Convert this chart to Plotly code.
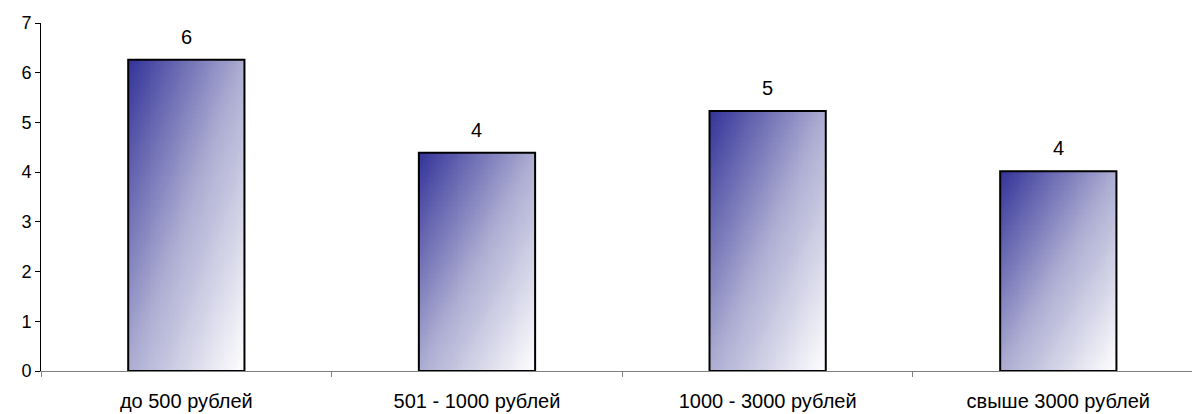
import numpy as np
import plotly.graph_objects as go

categories = ["до 500 рублей", "501 - 1000 рублей", "1000 - 3000 рублей", "свыше 3000 рублей"]
values = [6.26, 4.39, 5.23, 4.02]
labels = ["6", "4", "5", "4"]
y_ticks = [0, 1, 2, 3, 4, 5, 6, 7]

positions = list(range(len(categories)))
bar_width = 0.4

fig = go.Figure()

colorscale = [[0.0, "#333399"], [0.5, "#acacd2"], [1.0, "#ffffff"]]
nx, ny = 40, 80
for pos, val in zip(positions, values):
    xe = np.linspace(pos - bar_width / 2, pos + bar_width / 2, nx + 1)
    ye = np.linspace(0, val, ny + 1)
    u = (np.arange(nx) + 0.5) / nx
    v = 1 - (np.arange(ny) + 0.5) / ny  # 0 at top, 1 at bottom
    z = (u[None, :] + v[:, None]) / 2
    fig.add_trace(go.Heatmap(x=xe, y=ye, z=z, colorscale=colorscale, zmin=0, zmax=1,
                             showscale=False, hoverinfo="skip"))

fig.add_trace(go.Bar(x=positions, y=values, width=bar_width,
                     marker=dict(color="rgba(0,0,0,0)", line=dict(color="black", width=2)),
                     hoverinfo="skip", showlegend=False))

for pos, val, lab in zip(positions, values, labels):
    fig.add_annotation(x=pos, y=val, text=lab, showarrow=False, yshift=23,
                       font=dict(size=20, color="black"))

fig.update_layout(
    width=1192, height=414,
    margin=dict(l=41, r=0, t=23, b=43),
    paper_bgcolor="white", plot_bgcolor="white",
    font=dict(family="Liberation Sans, Arial, sans-serif", size=20, color="black"),
    showlegend=False,
)
fig.update_xaxes(range=[-0.5, 3.46], tickmode="array", tickvals=positions, ticktext=categories,
                 ticks="", showgrid=False, zeroline=False, showline=True, linecolor="#808080",
                 linewidth=1, ticklabelstandoff=12, automargin=False,
                 tickfont=dict(size=20),
                 minor=dict(tickmode="array", tickvals=[-0.5, 0.5, 1.5, 2.5], ticks="outside",
                            ticklen=5, tickcolor="#808080", showgrid=False))
fig.update_yaxes(range=[0, 7], tickmode="array", tickvals=y_ticks, ticks="outside", ticklen=5,
                 tickcolor="black", showgrid=False, zeroline=False, showline=True,
                 linecolor="black", linewidth=1, automargin=False, tickfont=dict(size=18))

fig.write_html("out.html", config={"displayModeBar": False},
               post_script="document.body.style.margin='0';document.body.style.overflow='hidden';")
